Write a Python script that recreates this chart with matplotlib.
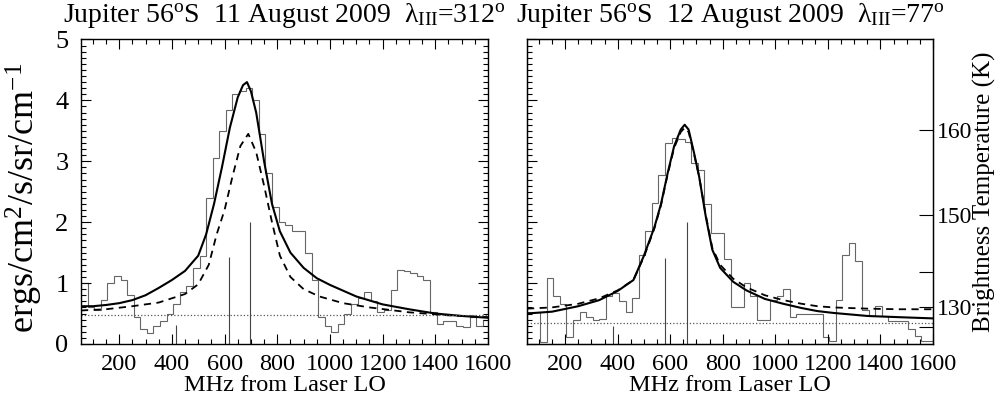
import numpy as np
import matplotlib
matplotlib.use("Agg")
import matplotlib.pyplot as plt
from matplotlib.ticker import MultipleLocator, NullFormatter

plt.rcParams["font.family"] = ["Liberation Serif", "DejaVu Serif"]
plt.rcParams["mathtext.fontset"] = "custom"
plt.rcParams["mathtext.rm"] = "Liberation Serif"
plt.rcParams["mathtext.it"] = "Liberation Serif:italic"
plt.rcParams["mathtext.bf"] = "Liberation Serif:bold"

# ==============================================================================
# DATA
# ==============================================================================

# 25 MHz channels, centres
bin_mhz = np.arange(67.5, 1600, 25)

hist_aug11 = [1.0, 0.6, 0.55, 0.72, 1.0, 1.12, 1.05, 0.8, 0.45, 0.25,
              0.18, 0.3, 0.37, 0.5, 0.65, 0.85, 0.95, 1.25, 1.45, 2.4,
              3.05, 3.5, 3.85, 4.1, 4.15, 4.2, 4.0, 3.45, 2.8, 2.25,
              2.0, 1.95, 1.85, 1.85, 1.5, 1.05, 0.45, 0.3, 0.2, 0.33,
              0.5, 0.65, 0.75, 0.85, 0.7, 0.52, 0.55, 0.88, 1.22, 1.2,
              1.17, 1.12, 1.05, 0.52, 0.32, 0.37, 0.37, 0.3, 0.28, 0.45,
              0.3, 0.4]

hist_aug12 = [0.53, 0.53, 0.03, 1.08, 0.78, 0.65, 0.12, 0.39, 0.52, 0.44,
              0.39, 0.41, 0.78, 0.84, 0.7, 0.52, 0.75, 1.46, 1.85, 2.31,
              2.77, 3.3, 3.38, 3.36, 3.32, 2.97, 2.85, 2.3, 1.82, 1.82,
              1.4, 0.6, 0.6, 1.0, 0.78, 0.4, 0.4, 0.72, 0.78, 0.9,
              0.44, 0.5, 0.5, 0.5, 0.5, 0.12, 0.05, 0.72, 1.46, 1.65,
              1.36, 0.56, 0.46, 0.62, 0.46, 0.38, 0.38, 0.38, 0.24, 0.13,
              0.05, 0.05]

# model fits, 11 August
fit_mhz_aug11 = [55, 100, 150, 200, 250, 300, 350, 400, 450, 500, 530, 560,
                 590, 620, 650, 670, 685, 700, 720, 750, 780, 810, 850, 900,
                 950, 1000, 1100, 1200, 1300, 1400, 1500, 1600]
fit_solid_aug11 = [0.62, 0.62, 0.64, 0.67, 0.72, 0.8, 0.92, 1.05, 1.2, 1.45,
                   1.8, 2.3, 2.9, 3.55, 4.05, 4.25, 4.3, 4.15, 3.8, 3.0,
                   2.3, 1.85, 1.5, 1.25, 1.08, 0.97, 0.78, 0.65, 0.57, 0.5,
                   0.46, 0.43]
dash_mhz_aug11 = [55, 150, 250, 350, 450, 500, 540, 570, 600, 630, 660, 690,
                  720, 750, 780, 810, 850, 900, 960, 1050, 1150, 1300, 1450,
                  1600]
fit_dash_aug11 = [0.55, 0.57, 0.62, 0.68, 0.82, 0.98, 1.3, 1.8, 2.2, 2.75,
                  3.25, 3.45, 3.15, 2.6, 2.0, 1.45, 1.1, 0.9, 0.78, 0.67,
                  0.6, 0.52, 0.47, 0.44]

# model fits, 12 August
fit_mhz_aug12 = [55, 150, 250, 330, 400, 460, 500, 540, 565, 590, 615, 640,
                 655, 670, 690, 710, 735, 760, 790, 840, 890, 960, 1030,
                 1100, 1160, 1220, 1350, 1470, 1600]
fit_solid_aug12 = [0.5, 0.53, 0.62, 0.72, 0.87, 1.05, 1.45, 1.92, 2.3, 2.8,
                   3.25, 3.52, 3.6, 3.52, 3.15, 2.75, 2.1, 1.55, 1.25, 1.02,
                   0.88, 0.74, 0.66, 0.59, 0.54, 0.51, 0.46, 0.44, 0.42]
fit_dash_aug12 = [0.58, 0.6, 0.66, 0.75, 0.88, 1.05, 1.43, 1.9, 2.28, 2.78,
                  3.22, 3.48, 3.55, 3.48, 3.13, 2.75, 2.12, 1.58, 1.3, 1.07,
                  0.93, 0.8, 0.72, 0.66, 0.62, 0.6, 0.58, 0.57, 0.57]

# continuum levels (dotted)
cont_aug11 = 0.475
cont_aug12 = 0.35

# line position markers (MHz, height)
mark_mhz_aug11 = [414, 616, 697]
mark_hgt_aug11 = [0.31, 1.43, 2.0]
mark_mhz_aug12 = [383, 582, 664]
mark_hgt_aug12 = [0.30, 1.41, 2.0]

titles = ["Jupiter 56$^{\\rm o}$S  11 August 2009  \u03bb$_{\\rm III}$=312$^{\\rm o}$",
          "Jupiter 56$^{\\rm o}$S  12 August 2009  \u03bb$_{\\rm III}$=77$^{\\rm o}$"]

temp_ticks = [120, 130, 140, 150, 160]
temp_labels = ["", "130", "", "150", "160"]

# ==============================================================================
# PLOT
# ==============================================================================

NU = 841.5  # cm^-1


def planck(T):
    return 0.955 * 1.1911e-5 * NU ** 3 / (np.exp(1.4388 * NU / T) - 1.0)


fig = plt.figure(figsize=(10, 4.09), dpi=100)
axL = fig.add_axes([0.081, 0.159, 0.407, 0.7445])
axR = fig.add_axes([0.527, 0.159, 0.406, 0.7445])

edges = np.append(bin_mhz - 12.5, bin_mhz[-1] + 12.5)

panels = [
    (axL, hist_aug11, fit_mhz_aug11, fit_solid_aug11, dash_mhz_aug11, fit_dash_aug11,
     cont_aug11, mark_mhz_aug11, mark_hgt_aug11),
    (axR, hist_aug12, fit_mhz_aug12, fit_solid_aug12, fit_mhz_aug12, fit_dash_aug12,
     cont_aug12, mark_mhz_aug12, mark_hgt_aug12),
]

for i, (ax, hist, fx, fs, dx, fd, cont, mx, mh) in enumerate(panels):
    ax.stairs(hist, edges, color="#666666", linewidth=0.8)
    ax.plot(fx, fs, color="black", linewidth=1.5)
    ax.plot(dx, fd, color="black", linewidth=1.3, dashes=(4, 3))
    ax.axhline(cont, color="#555555", linewidth=0.9, linestyle=":")
    ax.vlines(mx, 0, mh, color="#444444", linewidth=0.8)

    ax.set_xlim(55, 1600)
    ax.set_ylim(0, 5)
    ax.xaxis.set_major_locator(MultipleLocator(200))
    ax.xaxis.set_minor_locator(MultipleLocator(50))
    ax.yaxis.set_major_locator(MultipleLocator(1))
    ax.yaxis.set_minor_locator(MultipleLocator(0.1))
    ax.tick_params(which="both", direction="in", top=True, right=(i == 0),
                   width=0.8)
    ax.tick_params(which="major", length=7)
    ax.tick_params(which="minor", length=3.5)
    ax.tick_params(axis="x", labelsize=17.5, pad=7)
    ax.tick_params(axis="y", labelsize=19, pad=9)
    ax.set_xlabel("MHz from Laser LO", fontsize=17.5, labelpad=0)
    for sp in ax.spines.values():
        sp.set_linewidth(1.0)
    fig.text((ax.get_position().x0 + ax.get_position().x1) / 2, 1 - 15 / 409,
             titles[i], ha="center", va="center", fontsize=20)

axR.yaxis.set_major_formatter(NullFormatter())

# brightness temperature axis
axT = axR.twinx()
axT.set_ylim(axR.get_ylim())
axT.set_yticks([planck(t) for t in temp_ticks])
axT.set_yticklabels(temp_labels)
axT.tick_params(axis="y", direction="in", length=10, width=0.8, labelsize=17, pad=3)
axT.yaxis.set_minor_locator(plt.NullLocator())
axT.set_ylabel("Brightness Temperature (K)", fontsize=18, labelpad=0)

fig.text(0.024, 0.515, "ergs/cm$^2$/s/sr/cm$^{-1}$", rotation=90,
         ha="center", va="center", fontsize=26)

fig.savefig("out.png", dpi=100)
plt.close(fig)
